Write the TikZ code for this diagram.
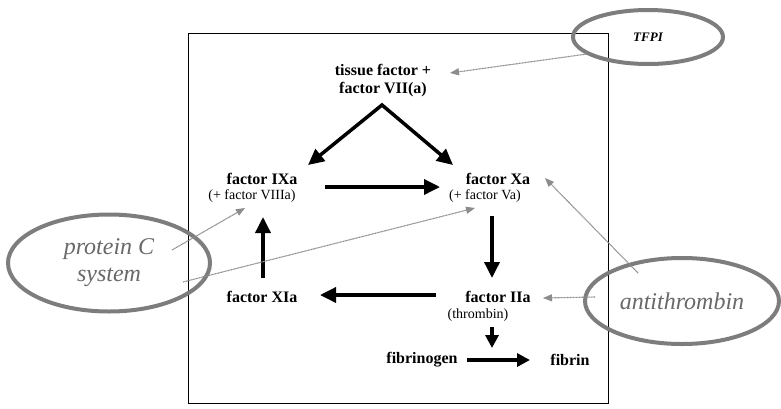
\documentclass[tikz,border=0pt]{standalone}
\usepackage{fontspec}
\setmainfont{Liberation Serif}
\usetikzlibrary{arrows.meta,shapes.geometric}
\definecolor{ovalgray}{RGB}{125,125,125}
\definecolor{txtgray}{RGB}{105,105,105}
\definecolor{arrgray}{RGB}{140,140,140}
\begin{document}
\begin{tikzpicture}[x=1pt,y=-1pt,
  lbl/.style={font=\bfseries\fontsize{16}{18}\selectfont, inner sep=0pt},
  sublbl/.style={font=\fontsize{14}{16}\selectfont, inner sep=0pt},
  blk/.style={line width=3.5pt, -{Triangle[length=16pt,width=15pt]}},
  blksmall/.style={line width=3.5pt, -{Triangle[length=13pt,width=13pt]}},
  inh/.style={draw=arrgray, line width=1.1pt, dash pattern=on 1pt off 0.5pt, -{Triangle[length=9pt,width=7pt]}},
  oval/.style={ellipse, draw=ovalgray, line width=4pt, inner sep=0pt, text=txtgray, align=center}
]
\useasboundingbox (0,0) rectangle (781,408);
\fill[white] (0,0) rectangle (781,408);
% frame
\draw[line width=1pt] (188,33) rectangle (608,403);

% labels
\node[lbl] (tf1) at (383,70) {tissue factor +};
\node[lbl] (tf2) at (383,90) {factor VII(a)};
\node[lbl] (ixa) at (262,179) {factor IXa};
\node[sublbl] (ixasub) at (252,196) {(+ factor VIIIa)};
\node[lbl] (xa) at (498,179) {factor Xa};
\node[sublbl] (xasub) at (485,196) {(+ factor Va)};
\node[lbl] (iia) at (498,297) {factor IIa};
\node[sublbl] (iiasub) at (478,315) {(thrombin)};
\node[lbl] (xia) at (262,297) {factor XIa};
\node[lbl] (fbg) at (422,360) {fibrinogen};
\node[lbl] (fib) at (570,360) {fibrin};

% inhibitor ovals
\node[oval, minimum width=150pt, minimum height=54pt, font=\bfseries\itshape\fontsize{13}{15}\selectfont, text=black] (tfpi) at (648,37) {TFPI};
\node[oval, minimum width=202pt, minimum height=97pt, font=\itshape\fontsize{24}{27}\selectfont] (pc) at (109,263) {protein C\\system};
\node[oval, minimum width=194pt, minimum height=86pt, font=\itshape\fontsize{24}{27}\selectfont] (at) at (682,301) {antithrombin};

% arrow end points
\coordinate (apex) at (382,105);
\coordinate (ixatip) at (308,165);
\coordinate (xatip) at (453,165);
\coordinate (ixaout) at (325,187);
\coordinate (xain) at (440,187);
\coordinate (xaout) at (492,216);
\coordinate (iiain) at (492,278);
\coordinate (iiaout) at (436,295);
\coordinate (xiain) at (320,295);
\coordinate (xiaout) at (263,278);
\coordinate (ixain) at (263,217);
\coordinate (iiadown) at (492,327);
\coordinate (fbgin) at (492,348);
\coordinate (fbgout) at (467,360);
\coordinate (fibin) at (530,360);

% cascade arrows
\draw[line width=3.5pt, line join=miter, {Triangle[length=16pt,width=15pt]}-{Triangle[length=16pt,width=15pt]}] (ixatip) -- (apex) -- (xatip);
\draw[blk] (ixaout) -- (xain);
\draw[blk] (xaout) -- (iiain);
\draw[blk] (iiaout) -- (xiain);
\draw[blk] (xiaout) -- (ixain);
\draw[blksmall] (iiadown) -- (fbgin);
\draw[blksmall] (fbgout) -- (fibin);

% inhibition arrows
\coordinate (tfpistart) at (587,54);
\coordinate (tfend) at (450,73);
\coordinate (pcs1) at (172,250);
\coordinate (ixaend) at (245,208);
\coordinate (pcs2) at (183,282);
\coordinate (xaend1) at (475,208);
\coordinate (ats1) at (638,273);
\coordinate (xaend2) at (545,178);
\coordinate (ats2) at (595,297);
\coordinate (iiaend) at (543,298);
\draw[inh] (tfpistart) -- (tfend);
\draw[inh] (pcs1) -- (ixaend);
\draw[inh] (pcs2) -- (xaend1);
\draw[inh] (ats1) -- (xaend2);
\draw[inh] (ats2) -- (iiaend);
\end{tikzpicture}
\end{document}
